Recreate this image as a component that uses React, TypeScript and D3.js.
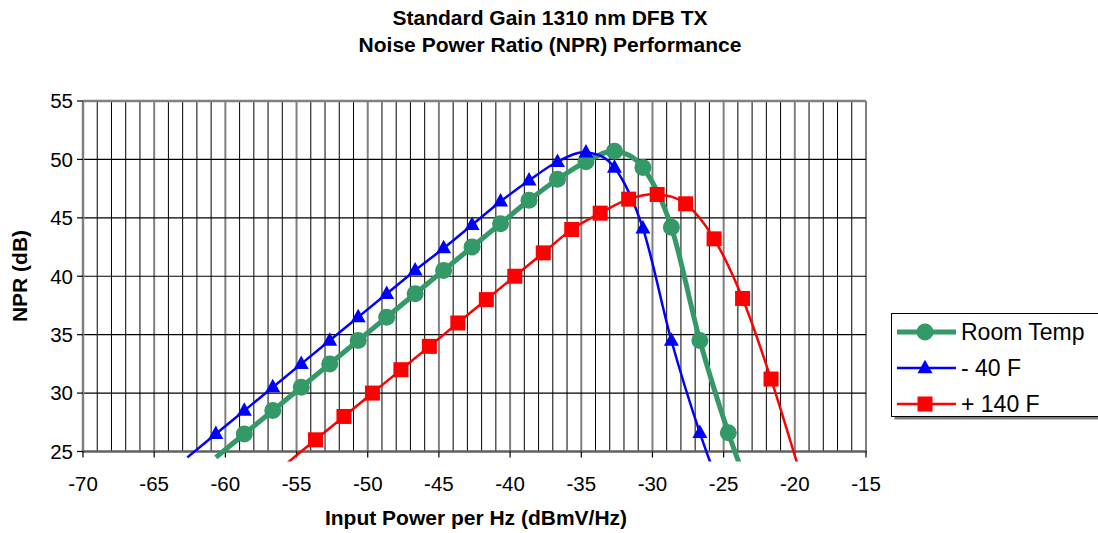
import React from 'react';
import * as d3 from 'd3';

// Input power per Hz (dBmV/Hz) and NPR (dB)
const ROOM_X = [-60.67, -58.67, -56.67, -54.67, -52.67, -50.67, -48.67, -46.67, -44.67, -42.67, -40.67, -38.67, -36.67, -34.67, -32.67, -30.67, -28.67, -26.67, -24.67, -22.67];
const ROOM_Y = [24.5, 26.5, 28.5, 30.5, 32.5, 34.5, 36.5, 38.5, 40.5, 42.5, 44.5, 46.5, 48.3, 49.8, 50.7, 49.3, 44.2, 34.5, 26.6, 20.0];

const COLD_X = [-62.67, -60.67, -58.67, -56.67, -54.67, -52.67, -50.67, -48.67, -46.67, -44.67, -42.67, -40.67, -38.67, -36.67, -34.67, -32.67, -30.67, -28.67, -26.67, -24.67];
const COLD_Y = [24.5, 26.5, 28.5, 30.5, 32.5, 34.5, 36.5, 38.5, 40.5, 42.4, 44.4, 46.4, 48.2, 49.8, 50.6, 49.3, 44.1, 34.5, 26.6, 20.0];

const HOT_X = [-55.67, -53.67, -51.67, -49.67, -47.67, -45.67, -43.67, -41.67, -39.67, -37.67, -35.67, -33.67, -31.67, -29.67, -27.67, -25.67, -23.67, -21.67, -19.67];
const HOT_Y = [24.0, 26.0, 28.0, 30.0, 32.0, 34.0, 36.0, 38.0, 40.0, 42.0, 44.0, 45.4, 46.6, 47.0, 46.2, 43.2, 38.1, 31.2, 23.3];

const SERIES_NAMES = ['Room Temp', '- 40 F', '+ 140 F'];

const X_TICKS = [-70, -65, -60, -55, -50, -45, -40, -35, -30, -25, -20, -15];
const Y_TICKS = [25, 30, 35, 40, 45, 50, 55];

const FONT = '"Liberation Sans", Arial, Helvetica, sans-serif';

const W = 1098, H = 533;
const L = 83, R = 866, T = 101, B = 451.5;

const x = d3.scaleLinear().domain([-70, -15]).range([L, R]);
const y = d3.scaleLinear().domain([25, 55]).range([B, T]);

const line = d3.line<[number, number]>()
  .x((d) => x(d[0]))
  .y((d) => y(d[1]))
  .curve(d3.curveCatmullRom.alpha(0));

type Kind = 'circle' | 'triangle' | 'square';

function Marker({ cx, cy, kind, color }: { cx: number; cy: number; kind: Kind; color: string }) {
  if (kind === 'circle') return <circle cx={cx} cy={cy} r={8.5} fill={color} />;
  if (kind === 'square') return <rect x={cx - 7.5} y={cy - 7.5} width={15} height={15} fill={color} />;
  const s = 15;
  const h = 13.5;
  return <path d={`M${cx},${cy - h * 0.62}L${cx + s / 2},${cy + h * 0.38}L${cx - s / 2},${cy + h * 0.38}Z`} fill={color} />;
}

const SERIES = [
  { name: SERIES_NAMES[0], xs: ROOM_X, ys: ROOM_Y, color: '#339966', width: 5, kind: 'circle' as Kind },
  { name: SERIES_NAMES[1], xs: COLD_X, ys: COLD_Y, color: '#0000FF', width: 2.5, kind: 'triangle' as Kind },
  { name: SERIES_NAMES[2], xs: HOT_X, ys: HOT_Y, color: '#FF0000', width: 2.5, kind: 'square' as Kind },
];

export default function App() {
  const minor = d3.range(-69, -15, 1).filter((v) => v % 5 !== 0);

  return (
    <svg width={W} height={H} style={{ position: 'absolute', left: 0, top: 0, background: '#fff' }} fontFamily={FONT}>
      <defs>
        {/* lines run a little past the bottom axis, as in the original */}
        <clipPath id="plot">
          <rect x={L} y={T} width={R - L} height={B - T + 10} />
        </clipPath>
      </defs>

      {/* Title */}
      <text x={550} y={25} textAnchor="middle" fontSize={21} fontWeight="bold">Standard Gain 1310 nm DFB TX</text>
      <text x={550} y={52} textAnchor="middle" fontSize={21} fontWeight="bold">Noise Power Ratio (NPR) Performance</text>

      {/* Grid */}
      {minor.map((v) => (
        <line key={`m${v}`} x1={x(v)} x2={x(v)} y1={T} y2={B} stroke="#000" strokeWidth={1} />
      ))}
      {X_TICKS.map((v) => (
        <line key={`M${v}`} x1={x(v)} x2={x(v)} y1={T} y2={B} stroke="#808080" strokeWidth={2} />
      ))}
      {Y_TICKS.slice(1, -1).map((v) => (
        <line key={`h${v}`} x1={L} x2={R} y1={y(v)} y2={y(v)} stroke="#000" strokeWidth={1.2} />
      ))}
      <line x1={L} x2={R} y1={T} y2={T} stroke="#808080" strokeWidth={2.5} />

      {/* Axes */}
      <line x1={L} x2={L} y1={T} y2={B + 1} stroke="#808080" strokeWidth={2.5} />
      <line x1={L} x2={R + 1} y1={B} y2={B} stroke="#606060" strokeWidth={2.5} />
      {Y_TICKS.map((v) => (
        <g key={`yt${v}`}>
          <line x1={L - 6} x2={L} y1={y(v)} y2={y(v)} stroke="#000" strokeWidth={1.2} />
          <text x={L - 10} y={y(v)} dy="0.36em" textAnchor="end" fontSize={20.5}>{v}</text>
        </g>
      ))}
      {X_TICKS.map((v) => (
        <g key={`xt${v}`}>
          <line x1={x(v)} x2={x(v)} y1={B} y2={B + 6} stroke="#000" strokeWidth={1.2} />
          <text x={x(v)} y={491} textAnchor="middle" fontSize={20.5}>{v}</text>
        </g>
      ))}

      {/* Series (markers only where the point is inside the axis range) */}
      <g clipPath="url(#plot)">
        {SERIES.map((s) => {
          const pts = s.xs.map((xv, i) => [xv, s.ys[i]] as [number, number]);
          return (
            <g key={s.name}>
              <path d={line(pts) || ''} fill="none" stroke={s.color} strokeWidth={s.width} strokeLinejoin="round" />
              {pts.filter((p) => p[1] >= 25).map((p, i) => (
                <Marker key={i} cx={x(p[0])} cy={y(p[1])} kind={s.kind} color={s.color} />
              ))}
            </g>
          );
        })}
      </g>

      {/* Axis titles */}
      <text x={476} y={525} textAnchor="middle" fontSize={21} fontWeight="bold">Input Power per Hz (dBmV/Hz)</text>
      <text transform={`translate(27,${276}) rotate(-90)`} textAnchor="middle" fontSize={21} fontWeight="bold">NPR (dB)</text>

      {/* Legend */}
      <rect x={894.5} y={316.5} width={210} height={103} fill="#808080" />
      <rect x={891.5} y={313.5} width={210} height={103} fill="#fff" stroke="#000" strokeWidth={1} />
      {SERIES.map((s, i) => {
        const ly = 332 + i * 36;
        return (
          <g key={`lg${s.name}`}>
            <line x1={897} x2={956} y1={ly} y2={ly} stroke={s.color} strokeWidth={s.width} />
            <Marker cx={925} cy={ly} kind={s.kind} color={s.color} />
            <text x={961} y={ly} dy="0.36em" fontSize={23}>{s.name}</text>
          </g>
        );
      })}
    </svg>
  );
}
